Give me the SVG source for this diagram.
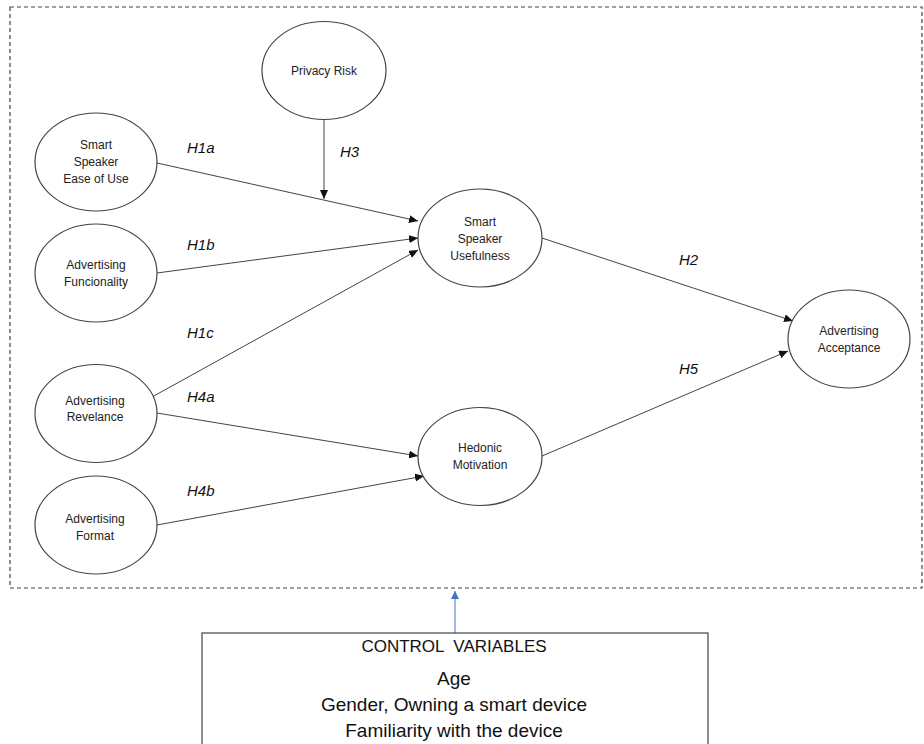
<svg xmlns="http://www.w3.org/2000/svg" width="924" height="744" viewBox="0 0 924 744">
<defs>
<marker id="ah" markerWidth="9" markerHeight="8" refX="9" refY="4" orient="auto" markerUnits="userSpaceOnUse"><path d="M0,0 L9,4 L0,8 Z" fill="#111"/></marker>
<marker id="ahb" markerWidth="8" markerHeight="8" refX="8" refY="4" orient="auto" markerUnits="userSpaceOnUse"><path d="M0,0 L8,4 L0,8 Z" fill="#4472c4"/></marker>
<style>
.n ellipse{fill:#fff;stroke:#444;stroke-width:1.2}
.n text{font-family:"Liberation Sans",Arial,sans-serif;font-size:12px;fill:#222;text-anchor:middle}
.h{font-family:"Liberation Sans",Arial,sans-serif;font-size:15px;font-style:italic;fill:#111}
.c line{stroke:#444;stroke-width:1;marker-end:url(#ah)}
.cv{font-family:"Liberation Sans",Arial,sans-serif;fill:#111;text-anchor:middle}
</style>
</defs>
<rect x="0" y="0" width="924" height="744" fill="#fff"/>
<rect id="frame" x="10" y="7" width="912" height="581" fill="none" stroke="#444" stroke-width="1.2" stroke-dasharray="4,3"/>

<g class="c" id="connectors">
<line x1="157" y1="163" x2="418" y2="221"/>
<line x1="324" y1="119" x2="324" y2="199"/>
<line x1="157" y1="273" x2="418" y2="238"/>
<line x1="152" y1="397" x2="418" y2="250"/>
<line x1="157" y1="413" x2="418" y2="456"/>
<line x1="157" y1="525" x2="424" y2="476"/>
<line x1="542" y1="238" x2="793" y2="321"/>
<line x1="542" y1="456" x2="788" y2="351"/>
<line x1="455" y1="633" x2="455" y2="591" style="stroke:#4472c4;marker-end:url(#ahb)"/>
</g>

<g class="n" id="privacy-risk"><ellipse cx="324" cy="70.5" rx="62" ry="49"/><text x="324" y="75">Privacy Risk</text></g>
<g class="n" id="ease-of-use"><ellipse cx="96" cy="162" rx="61" ry="49"/><text x="96" y="149">Smart</text><text x="96" y="166">Speaker</text><text x="96" y="183">Ease of Use</text></g>
<g class="n" id="funcionality"><ellipse cx="96" cy="273" rx="61" ry="49"/><text x="96" y="269">Advertising</text><text x="96" y="286">Funcionality</text></g>
<g class="n" id="revelance"><ellipse cx="96" cy="413.5" rx="61" ry="49"/><text x="95" y="405">Advertising</text><text x="95" y="421">Revelance</text></g>
<g class="n" id="format"><ellipse cx="96" cy="525" rx="61" ry="49"/><text x="95" y="523">Advertising</text><text x="95" y="540">Format</text></g>
<g class="n" id="usefulness"><ellipse cx="480" cy="238" rx="62" ry="49"/><text x="480" y="226">Smart</text><text x="480" y="243">Speaker</text><text x="480" y="260">Usefulness</text></g>
<g class="n" id="hedonic"><ellipse cx="480" cy="456.5" rx="62" ry="49"/><text x="480" y="452">Hedonic</text><text x="480" y="469">Motivation</text></g>
<g class="n" id="acceptance"><ellipse cx="849" cy="339" rx="61" ry="49"/><text x="849" y="335">Advertising</text><text x="849" y="352">Acceptance</text></g>

<g id="labels">
<text class="h" x="187" y="153">H1a</text>
<text class="h" x="340" y="157">H3</text>
<text class="h" x="187" y="250">H1b</text>
<text class="h" x="187" y="338">H1c</text>
<text class="h" x="187" y="402">H4a</text>
<text class="h" x="187" y="496">H4b</text>
<text class="h" x="679" y="265">H2</text>
<text class="h" x="679" y="374">H5</text>
</g>

<g id="control-variables">
<rect x="202" y="633" width="506" height="130" fill="#fff" stroke="#444" stroke-width="1.2"/>
<text class="cv" x="454" y="652" font-size="17" xml:space="preserve">CONTROL  VARIABLES</text>
<text class="cv" x="454" y="685" font-size="19">Age</text>
<text class="cv" x="454" y="711" font-size="19">Gender, Owning a smart device</text>
<text class="cv" x="454" y="737" font-size="19">Familiarity with the device</text>
</g>
</svg>
